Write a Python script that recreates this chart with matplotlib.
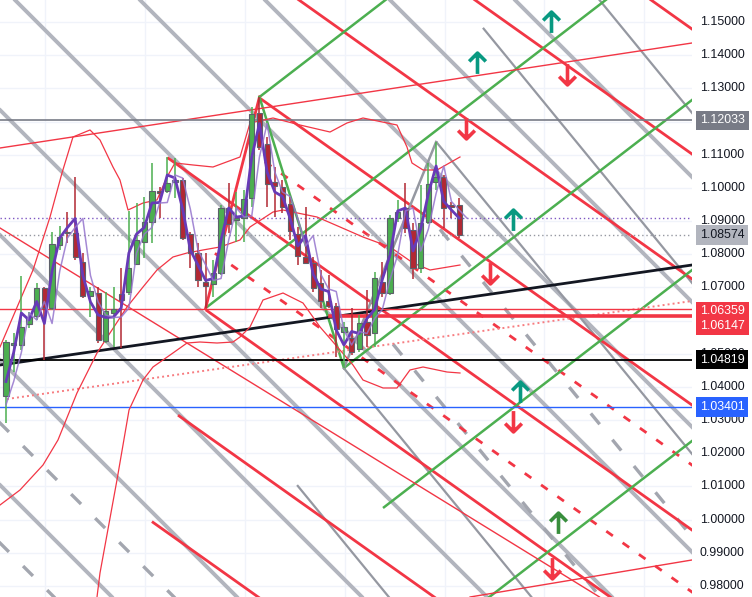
import matplotlib
matplotlib.use("Agg")
import matplotlib.pyplot as plt
import matplotlib.transforms as mtransforms
from matplotlib.path import Path
import numpy as np

# ---------------- candle data (weekly bars) ----------------
opens = [1.03727,1.05264,1.05264,1.05897,1.06138,1.06982,1.06379,1.08278,1.08670,1.08640,
         1.07766,1.06741,1.06831,1.05385,1.06229,1.06801,1.06862,1.07706,1.08369,1.08972,
         1.09906,1.09906,1.10177,1.10237,1.08610,1.08037,1.07163,1.07103,1.07434,1.09394,
         1.09032,1.09092,1.09695,1.12257,1.11323,1.10177,1.10026,1.09514,1.08610,1.07917,
         1.07736,1.07133,1.06590,1.06440,1.05656,1.05475,1.05143,1.05957,1.05626,1.07163,
         1.06831,1.09092,1.09394,1.08730,1.07585,1.08972,1.10177,1.10328,1.09484,1.09484]
highs = [1.05415,1.05626,1.07344,1.06259,1.07133,1.07012,1.08670,1.08851,1.09273,1.10328,
         1.08037,1.07012,1.07012,1.06862,1.07012,1.07585,1.09303,1.09544,1.09725,1.10750,
         1.10026,1.10931,1.10901,1.10298,1.08670,1.08338,1.08037,1.07826,1.09484,1.10147,
         1.09876,1.09936,1.12438,1.12739,1.11534,1.10629,1.10237,1.09725,1.08821,1.09424,
         1.07917,1.07525,1.07374,1.06530,1.05957,1.06379,1.06168,1.06922,1.07464,1.07766,
         1.09183,1.09635,1.10147,1.08941,1.10087,1.10750,1.11383,1.10388,1.09574,1.09695]
lows = [1.02913,1.04450,1.05113,1.05776,1.06018,1.04812,1.06319,1.08128,1.08338,1.07826,
        1.06681,1.06108,1.05324,1.05324,1.05204,1.05174,1.06771,1.07675,1.07886,1.08338,
        1.09092,1.09846,1.09695,1.08429,1.07585,1.07012,1.06379,1.06711,1.07374,1.08640,
        1.08369,1.08369,1.09424,1.11142,1.09424,1.09122,1.09243,1.08429,1.07675,1.07706,
        1.06862,1.06379,1.06379,1.04902,1.04571,1.04963,1.05053,1.05204,1.05204,1.06711,
        1.06771,1.08972,1.08640,1.07253,1.07434,1.08911,1.09936,1.08791,1.09092,1.08489]
closes = [1.05354,1.05324,1.05807,1.06108,1.06982,1.06379,1.08308,1.08519,1.08640,1.07917,
          1.06741,1.06892,1.05415,1.06289,1.06349,1.06620,1.07585,1.08429,1.08972,1.09906,
          1.09846,1.10147,1.10237,1.08489,1.08037,1.07223,1.07042,1.07434,1.09394,1.08911,
          1.09092,1.09665,1.12227,1.11232,1.10117,1.10057,1.09424,1.08700,1.07947,1.07736,
          1.06982,1.06590,1.06440,1.05746,1.05807,1.05053,1.05927,1.05565,1.07284,1.06831,
          1.09092,1.09273,1.08791,1.07585,1.08941,1.10117,1.10328,1.09394,1.09424,1.08574]
thin_ma_first = 1.0346

# ---------------- Bollinger band traces (bar, price) ----------------
bb_upper_x = [-0.78,3.52,5.73,7.29,8.72,10.94,12.24,13.93,14.84,15.89,17.84,19.66,20.96,22.0,
              24.35,26.95,30.47,31.77,34.77,38.28,42.19,44.4,46.48,50.91,52.21,52.86,54.3,56.12,59.11]
bb_upper_y = [1.05204,1.07525,1.09122,1.10448,1.11534,1.11745,1.11443,1.10629,1.10237,1.09333,
              1.09544,1.09635,1.10328,1.10750,1.10690,1.10629,1.10931,1.11956,1.12106,1.11895,
              1.11684,1.11956,1.12106,1.11895,1.11232,1.10750,1.10539,1.10539,1.10931]
bb_mid_x = [-0.78,1.82,4.82,6.77,9.24,11.85,13.54,15.76,17.84,19.66,21.74,23.57,25.65,27.86,
            30.47,31.77,34.77,36.07,40.49,43.49,46.48,50.0,53.0,55.21,59.11]
bb_mid_y = [1.00441,1.00893,1.01647,1.02401,1.03817,1.05023,1.05626,1.06410,1.07012,1.07525,
            1.07917,1.08037,1.08128,1.08218,1.08429,1.08821,1.09273,1.09333,1.09122,1.08821,
            1.08519,1.08218,1.07736,1.07525,1.07675]
bb_low_x = [11.85,12.24,14.45,16.02,17.84,19.14,21.74,23.57,25.26,27.47,29.56,30.47,31.77,33.46,
            36.07,38.67,40.89,43.49,45.18,46.48,49.09,50.91,52.6,54.3,57.42,59.11]
bb_low_y = [0.97668,0.98392,1.01195,1.03305,1.04209,1.04601,1.05023,1.05324,1.05354,1.05324,
            1.05354,1.05505,1.05807,1.06620,1.06831,1.06530,1.05807,1.05113,1.04661,1.04209,
            1.03968,1.03968,1.04511,1.04601,1.04450,1.04420]

# ---------------- drawings ----------------
# pivots A, B, C, D (bar, price)
pivot_bars = [26, 33, 44, 56]
pivot_prices = [1.06379, 1.12739, 1.04571, 1.11383]

# parallel red channel lines: price at bar 0, start bar (None = extended)
red_slope = -0.0016436
red_p0 = [1.29468, 1.25700, 1.21933, 1.18135, 1.14367, 1.10599, 1.06831, 1.03064]
red_start = [None, None, None, 33, 21.0, 26, 22.4, 19.0]
red_dash_p0 = [1.16326, 1.12498]
red_dash_start = [33.7, 27.2]

# green channel lines: anchor bar/price (rays toward the right)
green_slope = 0.0017825
green_anchor_bar = [33, 26, 44, 49.09, 89.32]
green_anchor_price = [1.12739, 1.06379, 1.04571, 1.00351, 1.02371]
green_is_ray = [True, True, True, True, False]

# light grey thick channel
grey_slope = -0.0023149
grey_p0 = [1.00863, 1.04631, 1.08399, 1.12167, 1.15934, 1.19702, 1.23470, 1.27238, 1.31005]
grey_dash_p0 = [1.02732, 0.99115]

# darker grey channel
dgrey_slope = -0.0028242
dgrey_p0 = [1.37486, 1.32362, 1.27207, 1.16989, 1.11745]
dgrey_start = [None, 62.1, 56, 44, 37.9]
dgrey_dash_p0 = [1.24706, 1.19521]
dgrey_dash_start = [56.5, 50.4]

# other trend lines: (bar0, price0, bar1, price1)
black_trend = (-0.78, 1.04661, 89.32, 1.07675)
red_thin_up = (-0.78, 1.11202, 89.32, 1.14367)
red_thin_down = (-0.78, 1.08791, 76.43, 0.97789)
red_thin_low = (60.42, 0.97668, 89.32, 0.98784)
pink_dotted = (0.13, 1.03636, 89.32, 1.06590)

# horizontal levels
level_grey = 1.12033
level_red_thin = 1.06359
level_red_thick = 1.06147
level_red_thick_start = 42.2
level_black = 1.04819
level_blue = 1.03401
level_purple_dotted = 1.09092
last_price = 1.08574

# arrows (bar, price)
up_teal_x = [70.96, 61.33, 66.02, 66.93]
up_teal_y = [1.15000, 1.13764, 1.09032, 1.03847]
up_green_x = [71.88]
up_green_y = [0.99899]
down_red_x = [73.05, 59.9, 63.02, 66.02, 71.09]
down_red_y = [1.13432, 1.11805, 1.07434, 1.02973, 0.98543]

# price axis
tick_values = [1.15, 1.14, 1.13, 1.12, 1.11, 1.10, 1.09, 1.08, 1.07, 1.06, 1.05,
               1.04, 1.03, 1.02, 1.01, 1.00, 0.99, 0.98]
tick_labels_hidden = [1.06]          # covered by the red price labels
time_grid_bars = [5.08, 18.1, 31.1, 44.1, 57.1, 70.1, 83.1]
label_texts = ["1.12033", "1.08574", "1.06359\n1.06147", "1.04819", "1.03401"]
label_pos = [1.12033, 1.08574, 1.06063, 1.04819, 1.03401]
label_bg = ["#787b86", "#b2b5be", "#f23645", "#000000", "#2962ff"]
label_fg = ["white", "#131722", "white", "white", "white"]

# ---------------- figure ----------------
fig = plt.figure(figsize=(7.52, 5.97), dpi=100)
ax = fig.add_axes([0, 0, 692 / 752, 1])
ax.set_xlim(-0.78, 89.32)
ax.set_ylim(0.97668, 1.15663)
for s in ax.spines.values():
    s.set_visible(False)
ax.set_xticks([])
ax.set_yticks([])

XL = ax.get_xlim()

for v in tick_values:
    ax.axhline(v, color="#f0f3fa", lw=1, zorder=0)
for b in time_grid_bars:
    ax.axvline(b, color="#f0f3fa", lw=1, zorder=0)


def draw_p0(p0, slope, start=None, **kw):
    x0 = XL[0] - 1 if start is None else start
    x1 = XL[1] + 1
    ax.plot([x0, x1], [p0 + slope * x0, p0 + slope * x1], solid_capstyle="butt", **kw)


def draw_seg(seg, **kw):
    b0, p0, b1, p1 = seg
    ax.axline((b0, p0), (b1, p1), **kw)


# light grey thick lines
for p0 in grey_p0:
    draw_p0(p0, grey_slope, color="#b2b5be", lw=2.8, zorder=1)
for p0 in grey_dash_p0:
    draw_p0(p0, grey_slope, color="#a3a6af", lw=2.4, ls=(0, (4.2, 6)), zorder=1)
# darker grey lines
for p0, st in zip(dgrey_p0, dgrey_start):
    draw_p0(p0, dgrey_slope, st, color="#9598a1", lw=1.6, zorder=1)
for p0, st in zip(dgrey_dash_p0, dgrey_dash_start):
    draw_p0(p0, dgrey_slope, st, color="#a3a6af", lw=2.4, ls=(0, (4.2, 6)), zorder=1)

# red channel
for p0, st in zip(red_p0, red_start):
    draw_p0(p0, red_slope, st, color="#f23645", lw=2.0, zorder=2)
for p0, st in zip(red_dash_p0, red_dash_start):
    draw_p0(p0, red_slope, st, color="#f23645", lw=2.0, ls=(0, (2.9, 4.3)), zorder=2)

# green channel
for ab, ap, ray in zip(green_anchor_bar, green_anchor_price, green_is_ray):
    p0 = ap - green_slope * ab
    draw_p0(p0, green_slope, ab if ray else None, color="#4caf50", lw=1.8, zorder=2)

# pivots polyline A-B (red), B-C (green), C-D (grey)
ax.plot(pivot_bars[0:2], pivot_prices[0:2], color="#f23645", lw=2.0, zorder=2)
ax.plot(pivot_bars[1:3], pivot_prices[1:3], color="#4caf50", lw=1.8, zorder=2)
ax.plot(pivot_bars[2:4], pivot_prices[2:4], color="#9598a1", lw=1.8, zorder=2)

# other trend lines
draw_seg(red_thin_up, color="#f23645", lw=1.0, zorder=2)
draw_seg(red_thin_down, color="#f23645", lw=1.0, zorder=2)
draw_seg(red_thin_low, color="#f23645", lw=1.0, zorder=2)
draw_seg(black_trend, color="#131722", lw=2.0, zorder=3)
pk_slope = (pink_dotted[3] - pink_dotted[1]) / (pink_dotted[2] - pink_dotted[0])
ax.plot([pink_dotted[0], XL[1] + 1],
        [pink_dotted[1], pink_dotted[1] + pk_slope * (XL[1] + 1 - pink_dotted[0])],
        color="#f77c80", lw=1.4, ls=(0, (1, 1.6)), zorder=2)

# horizontal levels
ax.axhline(level_grey, color="#787b86", lw=1.2, zorder=3)
ax.axhline(level_red_thin, color="#f23645", lw=1.0, zorder=3)
ax.plot([level_red_thick_start, XL[1] + 1], [level_red_thick] * 2, color="#f23645", lw=2.6, zorder=3)
ax.axhline(level_black, color="#000000", lw=1.3, zorder=3)
ax.axhline(level_blue, color="#2962ff", lw=1.0, zorder=3)
ax.axhline(level_purple_dotted, color="#7e57c2", lw=1.0, ls=(0, (1, 2)), zorder=3)
ax.axhline(last_price, color="#9598a1", lw=1.0, ls=(0, (1, 2)), zorder=3)

# Bollinger bands
for xs, ys in ((bb_upper_x, bb_upper_y), (bb_mid_x, bb_mid_y), (bb_low_x, bb_low_y)):
    ax.plot(xs, ys, color="#f23645", lw=0.9, zorder=3)

# candles
bars = np.arange(len(opens))
o = np.array(opens); h = np.array(highs); l = np.array(lows); c = np.array(closes)
up = c >= o
col = np.where(up, "#4caf50", "#b22833")
ax.vlines(bars, l, h, colors=col, lw=1.1, zorder=5)
body_lo = np.minimum(o, c)
body_h = np.maximum(np.abs(c - o), 0.0004)
ax.bar(bars, body_h, bottom=body_lo, width=0.68, color=col, edgecolor="#5d606b",
       linewidth=0.8, zorder=6)

# moving lines (median price and its one-bar displacement)
hl2 = (h + l) / 2
ax.plot(bars, hl2, color="#673ab7", lw=2.0, zorder=7)
thin_x = np.arange(len(opens) + 1)
thin_y = np.concatenate([[thin_ma_first], hl2])
ax.plot(thin_x, thin_y, color="#9575cd", lw=1.1, alpha=0.85, zorder=7)

# arrows
up_path = Path([(0, -1), (0, 1), (-0.8, 0.2), (0, 1), (0.8, 0.2)],
               [Path.MOVETO, Path.LINETO, Path.MOVETO, Path.LINETO, Path.LINETO])
down_path = Path([(0, 1), (0, -1), (-0.8, -0.2), (0, -1), (0.8, -0.2)],
                 [Path.MOVETO, Path.LINETO, Path.MOVETO, Path.LINETO, Path.LINETO])
ax.plot(up_teal_x, up_teal_y, ls="none", marker=up_path, ms=15, mfc="none",
        mec="#089981", mew=2.6, zorder=8)
ax.plot(up_green_x, up_green_y, ls="none", marker=up_path, ms=15, mfc="none",
        mec="#388e3c", mew=2.6, zorder=8)
ax.plot(down_red_x, down_red_y, ls="none", marker=down_path, ms=15, mfc="none",
        mec="#f23645", mew=2.6, zorder=8)

# price scale
trans = ax.get_yaxis_transform() + mtransforms.ScaledTranslation(8 / 100, 0, fig.dpi_scale_trans)
for v in tick_values:
    if v in tick_labels_hidden:
        continue
    ax.text(1.0, v, f"{v:.5f}", transform=trans, ha="left", va="center",
            fontsize=8.9, family="Liberation Sans", color="#131722", clip_on=False, zorder=10)
for t, pos, bg, fg in zip(label_texts, label_pos, label_bg, label_fg):
    ax.text(1.0, pos, t, transform=trans, ha="left", va="center", fontsize=8.9,
            family="Liberation Sans", color=fg, clip_on=False, zorder=11, linespacing=1.25,
            bbox=dict(boxstyle="square,pad=0.3", fc=bg, ec="none"))

fig.savefig("out.png", dpi=100)
